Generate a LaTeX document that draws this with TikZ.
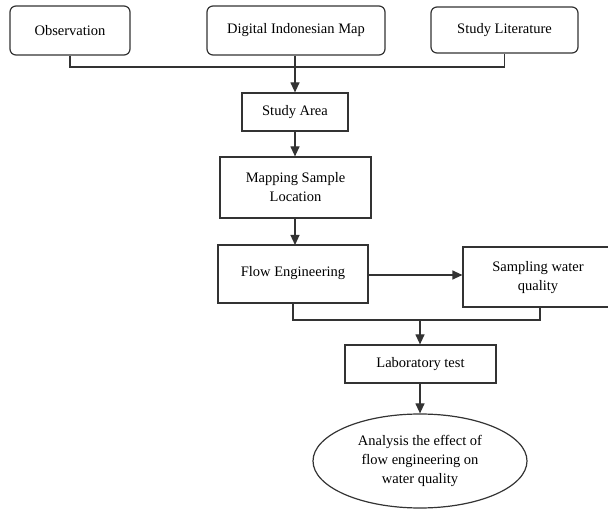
\documentclass[tikz,border=0pt]{standalone}
\usepackage{fontspec}
\setmainfont{Liberation Serif}
\usetikzlibrary{arrows.meta,shapes.geometric}
\begin{document}
\begin{tikzpicture}[x=1pt,y=-1pt,
  every node/.style={font=\fontsize{14.5}{19}\selectfont, align=center, inner sep=0pt, text=black},
  rbox/.style={draw=black!80, line width=1.2pt, rounded corners=6pt, rectangle},
  sbox/.style={draw=black!80, line width=1.2pt, rectangle},
  conn/.style={draw=black!80, line width=1.2pt},
  arr/.style={conn, -{Triangle[length=10pt,width=9pt]}}
]
\useasboundingbox (0,0) rectangle (608,510);
\node[rbox, minimum width=120pt, minimum height=49pt] (obs) at (70,30.5) {Observation};
\node[rbox, minimum width=178pt, minimum height=49pt] (dim) at (296,30.5) {Digital Indonesian Map};
\node[rbox, minimum width=147pt, minimum height=46pt] (lit) at (504.5,30) {Study Literature};
\node[sbox, minimum width=106pt, minimum height=38pt] (area) at (295,112) {Study Area};
\node[sbox, minimum width=151pt, minimum height=61pt] (map) at (295.5,187.5) {Mapping Sample\\Location};
\node[sbox, minimum width=150pt, minimum height=58pt] (flow) at (293,274) {\raisebox{6pt}{Flow Engineering}};
\node[sbox, minimum width=150pt, minimum height=60pt] (samp) at (538,277) {\raisebox{3pt}{\begin{tabular}{@{}c@{}}Sampling water\\quality\end{tabular}}};
\node[sbox, minimum width=151pt, minimum height=38pt] (lab) at (420.5,364) {Laboratory test};
\node[draw=black!80, line width=1.2pt, ellipse, minimum width=214pt, minimum height=94pt, inner sep=0pt] (ana) at (420,461) {Analysis the effect of\\flow engineering on\\water quality};
\coordinate (j1) at (295,67);
\coordinate (j2) at (420,320);
\coordinate (j3) at (540,320);
\coordinate (m1) at (295,218);
\coordinate (f1) at (295,245);
\draw[conn] (obs.south) -- (obs.south |- j1) -- (lit.south |- j1) -- (lit.south);
\draw[arr] (dim.south -| j1) -- (area.north -| j1);
\draw[arr] (area.south -| j1) -- (map.north -| j1);
\draw[arr] (m1) -- (f1);
\draw[arr] (flow.east |- 0,275) -- (samp.west |- 0,275);
\draw[conn] (flow.south) -- (flow.south |- j2) -- (j3) -- (j3 |- samp.south);
\draw[arr] (j2) -- (lab.north -| j2);
\draw[arr] (lab.south -| j2) -- (ana.north -| j2);
\end{tikzpicture}
\end{document}
